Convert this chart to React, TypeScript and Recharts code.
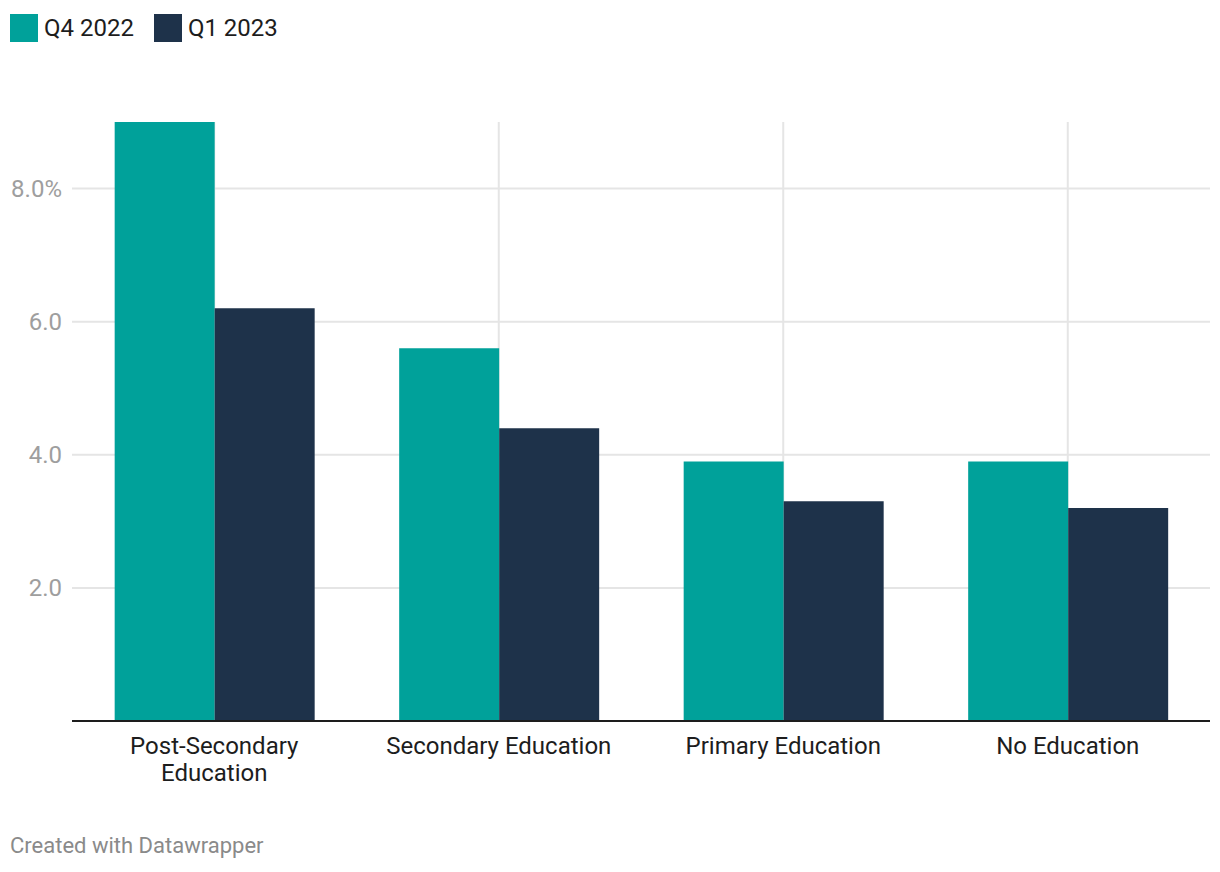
import React from "react";
import { Bar, BarChart, CartesianGrid, XAxis, YAxis } from "recharts";

const CATEGORIES = ["Post-Secondary Education", "Secondary Education", "Primary Education", "No Education"];
const Q4_2022 = [9.0, 5.6, 3.9, 3.9];
const Q1_2023 = [6.2, 4.4, 3.3, 3.2];
const Y_TICKS = [2, 4, 6, 8];
const SERIES = [
  { key: "q4", name: "Q4 2022", color: "#00a19a" },
  { key: "q1", name: "Q1 2023", color: "#1e324a" },
];

const data = CATEGORIES.map((c, i) => ({ cat: c, q4: Q4_2022[i], q1: Q1_2023[i] }));

const FONT = "Roboto, 'Noto Sans', sans-serif";

// break long labels at the last space, like the original
function wrap(label: string): string[] {
  if (label.length <= 20) return [label];
  const i = label.lastIndexOf(" ");
  return [label.slice(0, i), label.slice(i + 1)];
}

function XTick(props: any) {
  const { x, y, payload } = props;
  const lines = wrap(String(payload.value));
  return (
    <text x={x} y={y} textAnchor="middle" fill="#1d1d1d" fontSize={24} fontFamily={FONT}>
      {lines.map((l, i) => (
        <tspan key={i} x={x} dy={i === 0 ? 33 : 27}>
          {l}
        </tspan>
      ))}
    </text>
  );
}

function YTick(props: any) {
  const { x, y, payload } = props;
  const v = Number(payload.value);
  const label = v === 8 ? `${v.toFixed(1)}%` : v.toFixed(1);
  return (
    <text x={x} y={y} dy={8} textAnchor="end" fill="#9e9e9e" fontSize={24} fontFamily={FONT}>
      {label}
    </text>
  );
}

export default function App() {
  return (
    <div style={{ position: "absolute", left: 0, top: 0, width: 1220, height: 872, background: "#fff", fontFamily: FONT }}>
      <div style={{ position: "absolute", left: 10, top: 14, display: "flex", alignItems: "center" }}>
        {SERIES.map((s) => (
          <div key={s.key} style={{ display: "flex", alignItems: "center", marginRight: 20 }}>
            <div style={{ width: 28, height: 28, background: s.color, marginRight: 6 }} />
            <span style={{ fontSize: 24, color: "#1d1d1d", lineHeight: "28px" }}>{s.name}</span>
          </div>
        ))}
      </div>
      <div style={{ position: "absolute", left: 0, top: 0 }}>
        <BarChart
          width={1220}
          height={872}
          data={data}
          margin={{ top: 122, right: 10, left: 0, bottom: 71 }}
          barCategoryGap="15%"
          barGap={0}
        >
          <CartesianGrid stroke="#e5e5e5" strokeWidth={2} syncWithTicks />
          <XAxis
            dataKey="cat"
            height={80}
            tickLine={false}
            tickSize={0}
            tickMargin={0}
            axisLine={{ stroke: "#1d1d1d", strokeWidth: 2 }}
            tick={<XTick />}
            interval={0}
          />
          <YAxis
            width={72}
            domain={[0, 9]}
            ticks={Y_TICKS}
            axisLine={false}
            tickLine={false}
            tickSize={0}
            tickMargin={10}
            tick={<YTick />}
          />
          {SERIES.map((s) => (
            <Bar key={s.key} dataKey={s.key} name={s.name} fill={s.color} isAnimationActive={false} />
          ))}
        </BarChart>
      </div>
      <div style={{ position: "absolute", left: 10, top: 833, fontSize: 22, color: "#8a8a8a" }}>Created with Datawrapper</div>
    </div>
  );
}
